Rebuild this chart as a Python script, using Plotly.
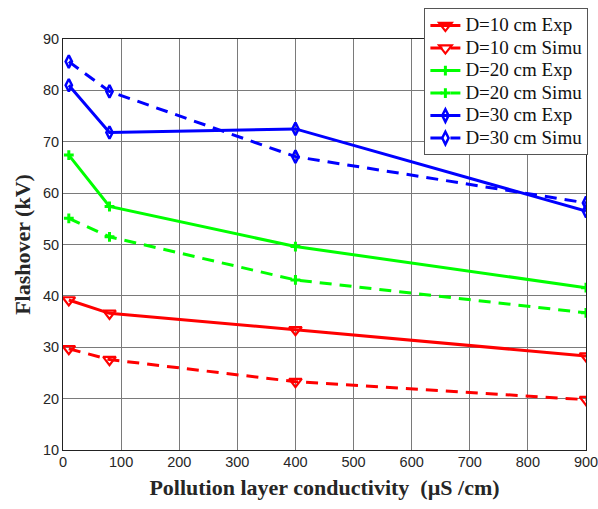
import plotly.graph_objects as go

conductivity = [10, 80, 400, 900]
d10_exp = [39.2, 36.6, 33.4, 28.3]
d10_simu = [29.7, 27.6, 23.3, 19.8]
d20_exp = [67.4, 57.4, 49.6, 41.6]
d20_simu = [55.1, 51.5, 43.1, 36.7]
d30_exp = [81.0, 71.8, 72.5, 56.5]
d30_simu = [85.6, 79.8, 67.1, 58.1]

names = ["D=10 cm Exp", "D=10 cm Simu", "D=20 cm Exp", "D=20 cm Simu",
         "D=30 cm Exp", "D=30 cm Simu"]
series = [d10_exp, d10_simu, d20_exp, d20_simu, d30_exp, d30_simu]
colors = ["#ff0000", "#ff0000", "#00ff00", "#00ff00", "#0000ff", "#0000ff"]
dashes = ["solid", "12px,8px", "solid", "12px,8px", "solid", "12px,8px"]
symbols = ["triangle-down-open", "triangle-down-open", "cross-thin-open",
           "cross-thin-open", "diamond-tall-open", "diamond-tall-open"]
sizes = [11, 11, 7, 7, 9, 9]
mwidths = [2.2, 2.2, 3, 3, 2.5, 2.5]

fig = go.Figure()
for n, s, c, d, sym, sz, mw in zip(names, series, colors, dashes, symbols, sizes, mwidths):
    fig.add_trace(go.Scatter(
        x=conductivity, y=s,
        name='<span style="font-size:19px">' + n + '</span>',
        mode="lines+markers",
        line=dict(color=c, width=3, dash=d),
        marker=dict(symbol=sym, size=sz, color=c, line=dict(color=c, width=mw)),
    ))

axis_common = dict(
    showgrid=True, gridcolor="#7a7a7a", gridwidth=1,
    showline=True, linecolor="#222222", linewidth=1, mirror=True,
    zeroline=False, ticks="", automargin=False, ticklabeloverflow="allow",
    tickfont=dict(family="Liberation Sans, Arial", size=14.5, color="#262626"),
)

title_font = dict(family="Liberation Serif, Times New Roman", size=22,
                  color="#262626", weight="bold")

fig.update_layout(
    width=598, height=509,
    margin=dict(l=63, r=12, t=39, b=59, autoexpand=False),
    paper_bgcolor="white", plot_bgcolor="white",
    xaxis=dict(range=[0, 900], dtick=100, ticklabelstandoff=-1, **axis_common,
               title=dict(text="Pollution layer conductivity\u00a0 (µS /cm)",
                          font=title_font, standoff=10)),
    yaxis=dict(range=[10, 90], dtick=10, **axis_common,
               title=dict(text="Flashover (kV)", font=title_font, standoff=6)),
    legend=dict(x=0.691, y=1.0747, xanchor="left", yanchor="top",
                bgcolor="white", bordercolor="#555555", borderwidth=1,
                font=dict(family="Liberation Serif, Times New Roman", size=15, color="#111111"),
                tracegroupgap=0),
    showlegend=True,
)

fig.write_html("out.html", config={"displayModeBar": False},
               post_script="document.body.style.margin='0';document.body.style.padding='0';")
